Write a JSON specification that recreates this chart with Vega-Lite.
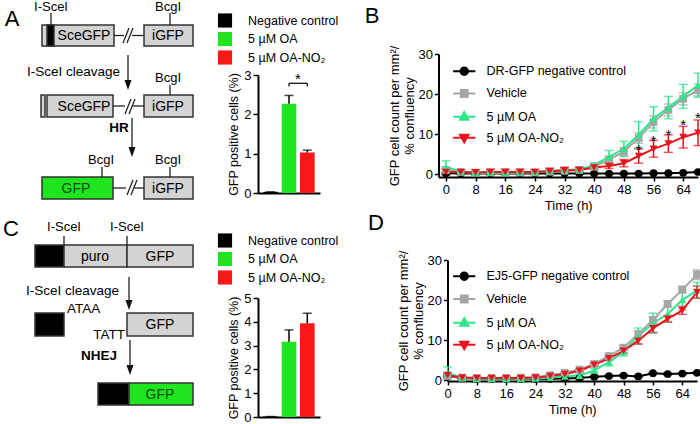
{
"$schema":"https://vega.github.io/schema/vega-lite/v6.json",
"width":700,"height":424,"padding":0,"autosize":{"type":"none"},"background":"white",
"config":{"view":{"stroke":null},"font":"Liberation Sans",
 "style":{"guide-title":{"lineBreak":"|"}},
 "axis":{"grid":false,"domainColor":"black","domainWidth":2,"tickColor":"black","tickWidth":1.5,"labelColor":"black","titleColor":"black","titleFontWeight":"normal","labelFontSize":13,"titleFontSize":13,"labelFlush":false},
 "legend":{"labelColor":"black","labelFontSize":12.5,"title":null}},
"datasets":{
 "diagRect":[
  {"x":42,"x2":114,"y":25,"y2":46,"k":"box"},
  {"x":47,"x2":54,"y":25,"y2":46,"k":"site"},
  {"x":144,"x2":193,"y":25,"y2":46,"k":"box"},
  {"x":41,"x2":45,"y":95,"y2":117,"k":"box"},
  {"x":47,"x2":113,"y":95,"y2":117,"k":"box"},
  {"x":144,"x2":193,"y":95,"y2":117,"k":"box"},
  {"x":42,"x2":113,"y":177,"y2":199,"k":"gfp"},
  {"x":144,"x2":193,"y":177,"y2":199,"k":"box"},
  {"x":35,"x2":64,"y":245,"y2":267,"k":"site"},
  {"x":64,"x2":127,"y":245,"y2":267,"k":"box"},
  {"x":127,"x2":193,"y":245,"y2":267,"k":"box"},
  {"x":35,"x2":64,"y":313,"y2":336,"k":"site"},
  {"x":127,"x2":193,"y":313,"y2":336,"k":"box"},
  {"x":98,"x2":129,"y":383,"y2":405,"k":"site"},
  {"x":129,"x2":193,"y":383,"y2":405,"k":"gfp"}
 ],
 "diagLine":[
  {"x":51,"x2":51,"y":13,"y2":25},
  {"x":170,"x2":170,"y":13,"y2":25},
  {"x":114,"x2":124,"y":35.5,"y2":35.5},
  {"x":132,"x2":144,"y":35.5,"y2":35.5},
  {"x":123,"x2":129,"y":43,"y2":28},
  {"x":127,"x2":133,"y":43,"y2":28},
  {"x":128,"x2":128,"y":55,"y2":85},
  {"x":170,"x2":170,"y":85,"y2":95},
  {"x":113,"x2":125,"y":106,"y2":106},
  {"x":133,"x2":144,"y":106,"y2":106},
  {"x":125,"x2":131,"y":114,"y2":99},
  {"x":129,"x2":135,"y":114,"y2":99},
  {"x":132,"x2":132,"y":118,"y2":152},
  {"x":102,"x2":102,"y":167,"y2":177},
  {"x":170,"x2":170,"y":167,"y2":177},
  {"x":113,"x2":126,"y":188,"y2":188},
  {"x":134,"x2":144,"y":188,"y2":188},
  {"x":127,"x2":133,"y":195,"y2":180},
  {"x":131,"x2":137,"y":195,"y2":180},
  {"x":64,"x2":64,"y":236,"y2":245},
  {"x":127,"x2":127,"y":236,"y2":245},
  {"x":129,"x2":129,"y":277,"y2":305},
  {"x":130,"x2":130,"y":340,"y2":370}
 ],
 "diagHead":[{"x":128,"y":85},{"x":132,"y":152},{"x":129,"y":305},{"x":130,"y":370}],
 "diagText":[
  {"x":12,"y":19,"t":"A","r":"big"},
  {"x":11,"y":229,"t":"C","r":"big"},
  {"x":372,"y":16,"t":"B","r":"big"},
  {"x":376,"y":223,"t":"D","r":"big"},
  {"x":51,"y":7,"t":"I-SceI","r":"c"},
  {"x":168,"y":7,"t":"BcgI","r":"c"},
  {"x":84,"y":36,"t":"SceGFP","r":"box"},
  {"x":168,"y":36,"t":"iGFP","r":"box"},
  {"x":120,"y":72,"t":"I-SceI cleavage","r":"r"},
  {"x":168,"y":78,"t":"BcgI","r":"c"},
  {"x":84,"y":107,"t":"SceGFP","r":"box"},
  {"x":168,"y":107,"t":"iGFP","r":"box"},
  {"x":119,"y":128,"t":"HR","r":"b"},
  {"x":101,"y":160,"t":"BcgI","r":"c"},
  {"x":168,"y":160,"t":"BcgI","r":"c"},
  {"x":76,"y":189,"t":"GFP","r":"g"},
  {"x":168,"y":189,"t":"iGFP","r":"box"},
  {"x":64,"y":227,"t":"I-SceI","r":"c"},
  {"x":127,"y":227,"t":"I-SceI","r":"c"},
  {"x":95,"y":257,"t":"puro","r":"box"},
  {"x":160,"y":257,"t":"GFP","r":"box"},
  {"x":119,"y":291,"t":"I-SceI cleavage","r":"r"},
  {"x":67,"y":309,"t":"ATAA","r":"l"},
  {"x":125,"y":335,"t":"TATT","r":"r"},
  {"x":160,"y":325,"t":"GFP","r":"box"},
  {"x":99,"y":356,"t":"NHEJ","r":"b"},
  {"x":160,"y":395,"t":"GFP","r":"g"}
 ],
 "barA":[{"g":"Negative control","mean":0.03,"upper":0.03},{"g":"5 µM OA","mean":2.27,"upper":2.48},{"g":"5 µM OA-NO₂","mean":1.03,"upper":1.09}],
 "sigA":[{"a":"5 µM OA","b":"5 µM OA-NO₂","y":2.79,"yd":2.71,"ys":2.98}],
 "barC":[{"g":"Negative control","mean":0.02,"upper":0.02},{"g":"5 µM OA","mean":3.16,"upper":3.66},{"g":"5 µM OA-NO₂","mean":3.94,"upper":4.36}],
 "starB":[{"t":52,"y":6.8},{"t":56,"y":8.9},{"t":60,"y":10.4},{"t":64,"y":13.1},{"t":68,"y":14.75}],
 "lineB":[
  {"t":0,"s":"DR-GFP negative control","m":0.2,"e":0.1},{"t":4,"s":"DR-GFP negative control","m":0.1,"e":0.1},{"t":8,"s":"DR-GFP negative control","m":0.1,"e":0.1},{"t":12,"s":"DR-GFP negative control","m":0.1,"e":0.1},{"t":16,"s":"DR-GFP negative control","m":0.1,"e":0.1},{"t":20,"s":"DR-GFP negative control","m":0.1,"e":0.1},{"t":24,"s":"DR-GFP negative control","m":0.1,"e":0.1},{"t":28,"s":"DR-GFP negative control","m":0.1,"e":0.1},{"t":32,"s":"DR-GFP negative control","m":0.1,"e":0.1},{"t":36,"s":"DR-GFP negative control","m":0.1,"e":0.1},{"t":40,"s":"DR-GFP negative control","m":0.1,"e":0.1},{"t":44,"s":"DR-GFP negative control","m":0.1,"e":0.1},{"t":48,"s":"DR-GFP negative control","m":0.1,"e":0.1},{"t":52,"s":"DR-GFP negative control","m":0.1,"e":0.1},{"t":56,"s":"DR-GFP negative control","m":0.2,"e":0.1},{"t":60,"s":"DR-GFP negative control","m":0.2,"e":0.1},{"t":64,"s":"DR-GFP negative control","m":0.3,"e":0.1},{"t":68,"s":"DR-GFP negative control","m":0.5,"e":0.2},
  {"t":0,"s":"Vehicle","m":1.0,"e":0.8},{"t":4,"s":"Vehicle","m":0.5,"e":0.3},{"t":8,"s":"Vehicle","m":0.3,"e":0.3},{"t":12,"s":"Vehicle","m":0.4,"e":0.3},{"t":16,"s":"Vehicle","m":0.3,"e":0.3},{"t":20,"s":"Vehicle","m":0.4,"e":0.3},{"t":24,"s":"Vehicle","m":0.4,"e":0.3},{"t":28,"s":"Vehicle","m":0.6,"e":0.3},{"t":32,"s":"Vehicle","m":0.8,"e":0.4},{"t":36,"s":"Vehicle","m":1.0,"e":0.5},{"t":40,"s":"Vehicle","m":1.8,"e":0.5},{"t":44,"s":"Vehicle","m":3.6,"e":0.8},{"t":48,"s":"Vehicle","m":5.6,"e":1.0},{"t":52,"s":"Vehicle","m":9.0,"e":1.3},{"t":56,"s":"Vehicle","m":13.0,"e":1.5},{"t":60,"s":"Vehicle","m":16.0,"e":1.5},{"t":64,"s":"Vehicle","m":18.8,"e":1.5},{"t":68,"s":"Vehicle","m":21.0,"e":1.5},
  {"t":0,"s":"5 µM OA","m":1.8,"e":1.5},{"t":4,"s":"5 µM OA","m":0.6,"e":0.4},{"t":8,"s":"5 µM OA","m":0.3,"e":0.3},{"t":12,"s":"5 µM OA","m":0.4,"e":0.4},{"t":16,"s":"5 µM OA","m":0.3,"e":0.3},{"t":20,"s":"5 µM OA","m":0.4,"e":0.3},{"t":24,"s":"5 µM OA","m":0.5,"e":0.3},{"t":28,"s":"5 µM OA","m":0.8,"e":0.4},{"t":32,"s":"5 µM OA","m":1.0,"e":0.5},{"t":36,"s":"5 µM OA","m":1.2,"e":0.5},{"t":40,"s":"5 µM OA","m":2.2,"e":0.6},{"t":44,"s":"5 µM OA","m":4.3,"e":1.6},{"t":48,"s":"5 µM OA","m":6.3,"e":1.9},{"t":52,"s":"5 µM OA","m":9.8,"e":3.3},{"t":56,"s":"5 µM OA","m":13.8,"e":3.0},{"t":60,"s":"5 µM OA","m":16.6,"e":2.8},{"t":64,"s":"5 µM OA","m":19.4,"e":3.0},{"t":68,"s":"5 µM OA","m":22.2,"e":3.0},
  {"t":0,"s":"5 µM OA-NO₂","m":0.5,"e":0.8},{"t":4,"s":"5 µM OA-NO₂","m":0.5,"e":0.6},{"t":8,"s":"5 µM OA-NO₂","m":0.4,"e":0.7},{"t":12,"s":"5 µM OA-NO₂","m":0.5,"e":0.7},{"t":16,"s":"5 µM OA-NO₂","m":0.5,"e":0.7},{"t":20,"s":"5 µM OA-NO₂","m":0.5,"e":0.7},{"t":24,"s":"5 µM OA-NO₂","m":0.5,"e":0.6},{"t":28,"s":"5 µM OA-NO₂","m":0.7,"e":0.7},{"t":32,"s":"5 µM OA-NO₂","m":0.9,"e":0.8},{"t":36,"s":"5 µM OA-NO₂","m":1.0,"e":0.7},{"t":40,"s":"5 µM OA-NO₂","m":1.6,"e":0.5},{"t":44,"s":"5 µM OA-NO₂","m":2.0,"e":0.6},{"t":48,"s":"5 µM OA-NO₂","m":2.7,"e":0.9},{"t":52,"s":"5 µM OA-NO₂","m":4.5,"e":1.8},{"t":56,"s":"5 µM OA-NO₂","m":6.3,"e":2.1},{"t":60,"s":"5 µM OA-NO₂","m":7.6,"e":2.2},{"t":64,"s":"5 µM OA-NO₂","m":9.2,"e":2.7},{"t":68,"s":"5 µM OA-NO₂","m":10.3,"e":3.2}
 ],
 "lineD":[
  {"t":0,"s":"EJ5-GFP negative control","m":1.0,"e":0.2},{"t":4,"s":"EJ5-GFP negative control","m":0.5,"e":0.2},{"t":8,"s":"EJ5-GFP negative control","m":0.3,"e":0.2},{"t":12,"s":"EJ5-GFP negative control","m":0.3,"e":0.2},{"t":16,"s":"EJ5-GFP negative control","m":0.3,"e":0.2},{"t":20,"s":"EJ5-GFP negative control","m":0.3,"e":0.2},{"t":24,"s":"EJ5-GFP negative control","m":0.3,"e":0.2},{"t":28,"s":"EJ5-GFP negative control","m":0.3,"e":0.2},{"t":32,"s":"EJ5-GFP negative control","m":0.4,"e":0.2},{"t":36,"s":"EJ5-GFP negative control","m":0.5,"e":0.2},{"t":40,"s":"EJ5-GFP negative control","m":0.8,"e":0.2},{"t":44,"s":"EJ5-GFP negative control","m":1.0,"e":0.2},{"t":48,"s":"EJ5-GFP negative control","m":1.1,"e":0.2},{"t":52,"s":"EJ5-GFP negative control","m":0.9,"e":0.2},{"t":56,"s":"EJ5-GFP negative control","m":1.7,"e":0.2},{"t":60,"s":"EJ5-GFP negative control","m":1.5,"e":0.2},{"t":64,"s":"EJ5-GFP negative control","m":1.6,"e":0.2},{"t":68,"s":"EJ5-GFP negative control","m":1.8,"e":0.2},
  {"t":0,"s":"Vehicle","m":1.0,"e":0.5},{"t":4,"s":"Vehicle","m":0.6,"e":0.3},{"t":8,"s":"Vehicle","m":0.5,"e":0.3},{"t":12,"s":"Vehicle","m":0.5,"e":0.3},{"t":16,"s":"Vehicle","m":0.5,"e":0.3},{"t":20,"s":"Vehicle","m":0.6,"e":0.3},{"t":24,"s":"Vehicle","m":0.7,"e":0.3},{"t":28,"s":"Vehicle","m":1.2,"e":0.3},{"t":32,"s":"Vehicle","m":1.8,"e":0.3},{"t":36,"s":"Vehicle","m":2.6,"e":0.3},{"t":40,"s":"Vehicle","m":4.0,"e":0.4},{"t":44,"s":"Vehicle","m":6.0,"e":0.5},{"t":48,"s":"Vehicle","m":8.1,"e":0.6},{"t":52,"s":"Vehicle","m":11.5,"e":0.8},{"t":56,"s":"Vehicle","m":15.0,"e":0.8},{"t":60,"s":"Vehicle","m":19.0,"e":0.8},{"t":64,"s":"Vehicle","m":22.6,"e":0.8},{"t":68,"s":"Vehicle","m":26.3,"e":1.2},
  {"t":0,"s":"5 µM OA","m":1.8,"e":1.5},{"t":4,"s":"5 µM OA","m":0.5,"e":0.4},{"t":8,"s":"5 µM OA","m":0.3,"e":0.3},{"t":12,"s":"5 µM OA","m":0.3,"e":0.3},{"t":16,"s":"5 µM OA","m":0.3,"e":0.3},{"t":20,"s":"5 µM OA","m":0.3,"e":0.3},{"t":24,"s":"5 µM OA","m":0.4,"e":0.3},{"t":28,"s":"5 µM OA","m":0.6,"e":0.3},{"t":32,"s":"5 µM OA","m":0.9,"e":0.4},{"t":36,"s":"5 µM OA","m":1.1,"e":0.4},{"t":40,"s":"5 µM OA","m":2.4,"e":0.5},{"t":44,"s":"5 µM OA","m":4.5,"e":1.0},{"t":48,"s":"5 µM OA","m":7.0,"e":1.0},{"t":52,"s":"5 µM OA","m":11.0,"e":2.0},{"t":56,"s":"5 µM OA","m":14.2,"e":2.5},{"t":60,"s":"5 µM OA","m":16.5,"e":2.0},{"t":64,"s":"5 µM OA","m":20.0,"e":2.5},{"t":68,"s":"5 µM OA","m":22.4,"e":2.0},
  {"t":0,"s":"5 µM OA-NO₂","m":1.2,"e":0.5},{"t":4,"s":"5 µM OA-NO₂","m":0.6,"e":0.3},{"t":8,"s":"5 µM OA-NO₂","m":0.5,"e":0.3},{"t":12,"s":"5 µM OA-NO₂","m":0.5,"e":0.3},{"t":16,"s":"5 µM OA-NO₂","m":0.5,"e":0.3},{"t":20,"s":"5 µM OA-NO₂","m":0.5,"e":0.3},{"t":24,"s":"5 µM OA-NO₂","m":0.6,"e":0.3},{"t":28,"s":"5 µM OA-NO₂","m":1.0,"e":0.3},{"t":32,"s":"5 µM OA-NO₂","m":1.5,"e":0.3},{"t":36,"s":"5 µM OA-NO₂","m":2.3,"e":0.3},{"t":40,"s":"5 µM OA-NO₂","m":3.8,"e":0.3},{"t":44,"s":"5 µM OA-NO₂","m":5.4,"e":0.5},{"t":48,"s":"5 µM OA-NO₂","m":7.3,"e":0.6},{"t":52,"s":"5 µM OA-NO₂","m":9.8,"e":0.8},{"t":56,"s":"5 µM OA-NO₂","m":12.9,"e":1.0},{"t":60,"s":"5 µM OA-NO₂","m":15.3,"e":0.8},{"t":64,"s":"5 µM OA-NO₂","m":17.4,"e":1.0},{"t":68,"s":"5 µM OA-NO₂","m":22.0,"e":1.5}
 ]
},
"layer":[
 {"layer":[
  {"data":{"name":"diagRect"},"mark":{"type":"rect","stroke":"#333333","strokeWidth":1.5},
   "encoding":{"x":{"field":"x","type":"quantitative","scale":{"domain":[0,700],"range":[0,700],"nice":false,"zero":false},"axis":null},"x2":{"field":"x2"},
    "y":{"field":"y","type":"quantitative","scale":{"domain":[0,424],"range":[0,424],"nice":false,"zero":false},"axis":null},"y2":{"field":"y2"},
    "color":{"field":"k","type":"nominal","scale":{"domain":["box","site","gfp"],"range":["#d3d3d3","#000000","#1ee61e"]},"legend":null}}},
  {"data":{"name":"diagLine"},"mark":{"type":"rule","stroke":"#222222","strokeWidth":1.3},
   "encoding":{"x":{"field":"x","type":"quantitative","axis":null},"x2":{"field":"x2"},"y":{"field":"y","type":"quantitative","axis":null},"y2":{"field":"y2"}}},
  {"data":{"name":"diagHead"},"mark":{"type":"point","shape":"M-0.7,-1L0.7,-1L0,1Z","size":100,"filled":true,"color":"#111111","opacity":1},
   "encoding":{"x":{"field":"x","type":"quantitative","axis":null},"y":{"field":"y","type":"quantitative","axis":null}}},
  {"data":{"name":"diagText"},"transform":[{"filter":"datum.r==='c'"}],"mark":{"type":"text","fontSize":13,"baseline":"middle","align":"center","color":"black"},
   "encoding":{"x":{"field":"x","type":"quantitative","axis":null},"y":{"field":"y","type":"quantitative","axis":null},"text":{"field":"t"}}},
  {"data":{"name":"diagText"},"transform":[{"filter":"datum.r==='box'"}],"mark":{"type":"text","fontSize":14,"baseline":"middle","align":"center","color":"black"},
   "encoding":{"x":{"field":"x","type":"quantitative","axis":null},"y":{"field":"y","type":"quantitative","axis":null},"text":{"field":"t"}}},
  {"data":{"name":"diagText"},"transform":[{"filter":"datum.r==='r'"}],"mark":{"type":"text","fontSize":13.5,"baseline":"middle","align":"right","color":"black"},
   "encoding":{"x":{"field":"x","type":"quantitative","axis":null},"y":{"field":"y","type":"quantitative","axis":null},"text":{"field":"t"}}},
  {"data":{"name":"diagText"},"transform":[{"filter":"datum.r==='l'"}],"mark":{"type":"text","fontSize":13.5,"baseline":"middle","align":"left","color":"black"},
   "encoding":{"x":{"field":"x","type":"quantitative","axis":null},"y":{"field":"y","type":"quantitative","axis":null},"text":{"field":"t"}}},
  {"data":{"name":"diagText"},"transform":[{"filter":"datum.r==='b'"}],"mark":{"type":"text","fontSize":13.5,"fontWeight":"bold","baseline":"middle","align":"center","color":"black"},
   "encoding":{"x":{"field":"x","type":"quantitative","axis":null},"y":{"field":"y","type":"quantitative","axis":null},"text":{"field":"t"}}},
  {"data":{"name":"diagText"},"transform":[{"filter":"datum.r==='g'"}],"mark":{"type":"text","fontSize":14,"baseline":"middle","align":"center","color":"#184818"},
   "encoding":{"x":{"field":"x","type":"quantitative","axis":null},"y":{"field":"y","type":"quantitative","axis":null},"text":{"field":"t"}}},
  {"data":{"name":"diagText"},"transform":[{"filter":"datum.r==='big'"}],"mark":{"type":"text","fontSize":22,"baseline":"middle","align":"center","color":"black"},
   "encoding":{"x":{"field":"x","type":"quantitative","axis":null},"y":{"field":"y","type":"quantitative","axis":null},"text":{"field":"t"}}}
 ]},
 {"data":{"name":"barA"},
  "layer":[
   {"mark":{"type":"bar"},"encoding":{
     "x":{"field":"g","type":"nominal","sort":null,"scale":{"domain":["Negative control","5 µM OA","5 µM OA-NO₂"],"range":[258,320],"paddingInner":0.2,"paddingOuter":0.294},"axis":{"orient":"bottom","offset":-231,"labels":false,"ticks":false,"title":null}},
     "y":{"field":"mean","type":"quantitative","scale":{"domain":[0,3],"range":[193,75],"nice":false},"axis":{"orient":"left","offset":-258,"values":[0,1,2,3],"format":"d","tickSize":5,"labelPadding":2,"title":"GFP positive cells (%)","titleFontSize":12.5,"titlePadding":3}},
     "color":{"field":"g","type":"nominal","scale":{"domain":["Negative control","5 µM OA","5 µM OA-NO₂"],"range":["#000000","#1ee61e","#f81818"]},
      "legend":{"orient":"none","legendX":217.5,"legendY":13,"symbolType":"square","symbolSize":200,"symbolStrokeWidth":0,"labelOffset":15.5,"rowPadding":3.5,"labelFontSize":12.5,"title":null}}}},
   {"mark":{"type":"rule","color":"black","strokeWidth":1.5},"encoding":{"x":{"field":"g","type":"nominal"},"y":{"field":"mean","type":"quantitative"},"y2":{"field":"upper"}}},
   {"mark":{"type":"tick","color":"black","thickness":1.5,"size":9},"encoding":{"x":{"field":"g","type":"nominal"},"y":{"field":"upper","type":"quantitative"}}},
   {"data":{"name":"sigA"},"mark":{"type":"rule","color":"black","strokeWidth":1.2},"encoding":{"x":{"field":"a","type":"nominal"},"x2":{"field":"b"},"y":{"field":"y","type":"quantitative"}}},
   {"data":{"name":"sigA"},"mark":{"type":"rule","color":"black","strokeWidth":1.2},"encoding":{"x":{"field":"a","type":"nominal"},"y":{"field":"y","type":"quantitative"},"y2":{"field":"yd"}}},
   {"data":{"name":"sigA"},"mark":{"type":"rule","color":"black","strokeWidth":1.2},"encoding":{"x":{"field":"b","type":"nominal"},"y":{"field":"y","type":"quantitative"},"y2":{"field":"yd"}}},
   {"data":{"name":"sigA"},"mark":{"type":"text","text":"*","fontSize":15,"dx":9,"dy":3,"color":"black"},"encoding":{"x":{"field":"a","type":"nominal"},"y":{"field":"ys","type":"quantitative"}}}
  ]},
 {"data":{"name":"lineB"},
  "layer":[
   {"mark":{"type":"errorbar","ticks":true,"size":9,"thickness":1.5},"encoding":{
     "x":{"field":"t","type":"quantitative","title":"Time (h)"},
     "y":{"field":"m","type":"quantitative","title":"GFP cell count per mm²/|% confluency"},
     "yError":{"field":"e"},
     "color":{"field":"s","type":"nominal","legend":null}}},
   {"mark":{"type":"line","strokeWidth":2},"encoding":{
     "x":{"field":"t","type":"quantitative","title":"Time (h)","scale":{"domain":[-2,68],"range":[438.5,698],"nice":false,"zero":false},"axis":{"orient":"bottom","offset":-247,"values":[0,8,16,24,32,40,48,56,64],"format":"d","tickSize":4,"labelPadding":2,"titlePadding":3}},
     "y":{"field":"m","type":"quantitative","title":"GFP cell count per mm²/|% confluency","scale":{"domain":[-0.75,30],"range":[177,54],"nice":false,"zero":false},"axis":{"orient":"left","offset":-438.5,"values":[0,10,20,30],"format":"d","tickSize":4,"labelPadding":2,"titlePadding":2}},
     "color":{"field":"s","type":"nominal","scale":{"domain":["DR-GFP negative control","Vehicle","5 µM OA","5 µM OA-NO₂"],"range":["#000000","#a6a6a6","#2ee68a","#e8141c"]},"legend":null}}},
   {"mark":{"type":"point","filled":true,"size":60,"opacity":1},"encoding":{
     "x":{"field":"t","type":"quantitative","title":"Time (h)"},
     "y":{"field":"m","type":"quantitative","title":"GFP cell count per mm²/|% confluency"},
     "color":{"field":"s","type":"nominal","legend":null},
     "shape":{"field":"s","type":"nominal","scale":{"domain":["DR-GFP negative control","Vehicle","5 µM OA","5 µM OA-NO₂"],"range":["circle","square","triangle-up","triangle-down"]},"legend":null}}},
   {"transform":[{"filter":"false"}],"mark":{"type":"point","filled":true,"size":36,"opacity":1},"encoding":{
     "shape":{"field":"s","type":"nominal","scale":{"domain":["DR-GFP negative control","Vehicle","5 µM OA","5 µM OA-NO₂"],"range":["M-3.7,0L3.7,0M1.25,0A1.25,1.25,0,1,1,-1.25,0A1.25,1.25,0,1,1,1.25,0Z","M-3.7,0L3.7,0M-1.15,-1.15L1.15,-1.15L1.15,1.15L-1.15,1.15Z","M-3.7,0L3.7,0M0,-1.5L1.4,1.0L-1.4,1.0Z","M-3.7,0L3.7,0M0,1.5L1.4,-1.0L-1.4,-1.0Z"]},
       "legend":{"orient":"none","legendX":458,"legendY":65,"title":null,"symbolSize":36,"symbolStrokeWidth":2,"labelFontSize":12.5,"labelOffset":16,"rowPadding":6.2}},
     "fill":{"field":"s","type":"nominal","scale":{"domain":["DR-GFP negative control","Vehicle","5 µM OA","5 µM OA-NO₂"],"range":["#000000","#a6a6a6","#2ee68a","#e8141c"]},
       "legend":{"orient":"none","legendX":458,"legendY":65,"title":null,"symbolSize":36,"symbolStrokeWidth":2,"labelFontSize":12.5,"labelOffset":16,"rowPadding":6.2}},
     "stroke":{"field":"s","type":"nominal","scale":{"domain":["DR-GFP negative control","Vehicle","5 µM OA","5 µM OA-NO₂"],"range":["#000000","#a6a6a6","#2ee68a","#e8141c"]},
       "legend":{"orient":"none","legendX":458,"legendY":65,"title":null,"symbolSize":36,"symbolStrokeWidth":2,"labelFontSize":12.5,"labelOffset":16,"rowPadding":6.2}}}},
   {"data":{"name":"starB"},"mark":{"type":"text","text":"*","fontSize":15,"dy":3,"color":"black"},"encoding":{
     "x":{"field":"t","type":"quantitative","title":"Time (h)"},
     "y":{"field":"y","type":"quantitative","title":"GFP cell count per mm²/|% confluency"}}}
  ],
  "resolve":{"scale":{"shape":"independent","fill":"independent","stroke":"independent"}}},
 {"data":{"name":"barC"},
  "layer":[
   {"mark":{"type":"bar"},"encoding":{
     "x":{"field":"g","type":"nominal","sort":null,"scale":{"domain":["Negative control","5 µM OA","5 µM OA-NO₂"],"range":[258,320],"paddingInner":0.2,"paddingOuter":0.294},"axis":{"orient":"bottom","offset":-7,"labels":false,"ticks":false,"title":null}},
     "y":{"field":"mean","type":"quantitative","scale":{"domain":[0,5],"range":[417,298],"nice":false},"axis":{"orient":"left","offset":-258,"values":[0,1,2,3,4,5],"format":"d","tickSize":5,"labelPadding":2,"title":"GFP positive cells (%)","titleFontSize":12.5,"titlePadding":3}},
     "color":{"field":"g","type":"nominal","scale":{"domain":["Negative control","5 µM OA","5 µM OA-NO₂"],"range":["#000000","#1ee61e","#f81818"]},
      "legend":{"orient":"none","legendX":217.5,"legendY":233,"symbolType":"square","symbolSize":200,"symbolStrokeWidth":0,"labelOffset":15.5,"rowPadding":3.5,"labelFontSize":12.5,"title":null}}}},
   {"mark":{"type":"rule","color":"black","strokeWidth":1.5},"encoding":{"x":{"field":"g","type":"nominal"},"y":{"field":"mean","type":"quantitative"},"y2":{"field":"upper"}}},
   {"mark":{"type":"tick","color":"black","thickness":1.5,"size":9},"encoding":{"x":{"field":"g","type":"nominal"},"y":{"field":"upper","type":"quantitative"}}}
  ]},
 {"data":{"name":"lineD"},
  "layer":[
   {"mark":{"type":"errorbar","ticks":true,"size":9,"thickness":1.5},"encoding":{
     "x":{"field":"t","type":"quantitative","title":"Time (h)"},
     "y":{"field":"m","type":"quantitative","title":"GFP cell count per mm²/|% confluency"},
     "yError":{"field":"e"},
     "color":{"field":"s","type":"nominal","legend":null}}},
   {"mark":{"type":"line","strokeWidth":2},"encoding":{
     "x":{"field":"t","type":"quantitative","title":"Time (h)","scale":{"domain":[0,68],"range":[447.5,697],"nice":false,"zero":false},"axis":{"orient":"bottom","offset":-43,"values":[0,8,16,24,32,40,48,56,64],"format":"d","tickSize":4,"labelPadding":2,"titlePadding":3}},
     "y":{"field":"m","type":"quantitative","title":"GFP cell count per mm²/|% confluency","scale":{"domain":[-0.25,30],"range":[381,260],"nice":false,"zero":false},"axis":{"orient":"left","offset":-447.5,"values":[0,10,20,30],"format":"d","tickSize":4,"labelPadding":2,"titlePadding":2}},
     "color":{"field":"s","type":"nominal","scale":{"domain":["EJ5-GFP negative control","Vehicle","5 µM OA","5 µM OA-NO₂"],"range":["#000000","#a6a6a6","#2ee68a","#e8141c"]},"legend":null}}},
   {"mark":{"type":"point","filled":true,"size":60,"opacity":1},"encoding":{
     "x":{"field":"t","type":"quantitative","title":"Time (h)"},
     "y":{"field":"m","type":"quantitative","title":"GFP cell count per mm²/|% confluency"},
     "color":{"field":"s","type":"nominal","legend":null},
     "shape":{"field":"s","type":"nominal","scale":{"domain":["EJ5-GFP negative control","Vehicle","5 µM OA","5 µM OA-NO₂"],"range":["circle","square","triangle-up","triangle-down"]},"legend":null}}},
   {"transform":[{"filter":"false"}],"mark":{"type":"point","filled":true,"size":36,"opacity":1},"encoding":{
     "shape":{"field":"s","type":"nominal","scale":{"domain":["EJ5-GFP negative control","Vehicle","5 µM OA","5 µM OA-NO₂"],"range":["M-3.7,0L3.7,0M1.25,0A1.25,1.25,0,1,1,-1.25,0A1.25,1.25,0,1,1,1.25,0Z","M-3.7,0L3.7,0M-1.15,-1.15L1.15,-1.15L1.15,1.15L-1.15,1.15Z","M-3.7,0L3.7,0M0,-1.5L1.4,1.0L-1.4,1.0Z","M-3.7,0L3.7,0M0,1.5L1.4,-1.0L-1.4,-1.0Z"]},
       "legend":{"orient":"none","legendX":458,"legendY":270,"title":null,"symbolSize":36,"symbolStrokeWidth":2,"labelFontSize":12.5,"labelOffset":16,"rowPadding":6.8}},
     "fill":{"field":"s","type":"nominal","scale":{"domain":["EJ5-GFP negative control","Vehicle","5 µM OA","5 µM OA-NO₂"],"range":["#000000","#a6a6a6","#2ee68a","#e8141c"]},
       "legend":{"orient":"none","legendX":458,"legendY":270,"title":null,"symbolSize":36,"symbolStrokeWidth":2,"labelFontSize":12.5,"labelOffset":16,"rowPadding":6.8}},
     "stroke":{"field":"s","type":"nominal","scale":{"domain":["EJ5-GFP negative control","Vehicle","5 µM OA","5 µM OA-NO₂"],"range":["#000000","#a6a6a6","#2ee68a","#e8141c"]},
       "legend":{"orient":"none","legendX":458,"legendY":270,"title":null,"symbolSize":36,"symbolStrokeWidth":2,"labelFontSize":12.5,"labelOffset":16,"rowPadding":6.8}}}}
  ],
  "resolve":{"scale":{"shape":"independent","fill":"independent","stroke":"independent"}}}
],
"resolve":{"scale":{"x":"independent","y":"independent","color":"independent","shape":"independent","fill":"independent","stroke":"independent"}}
}
